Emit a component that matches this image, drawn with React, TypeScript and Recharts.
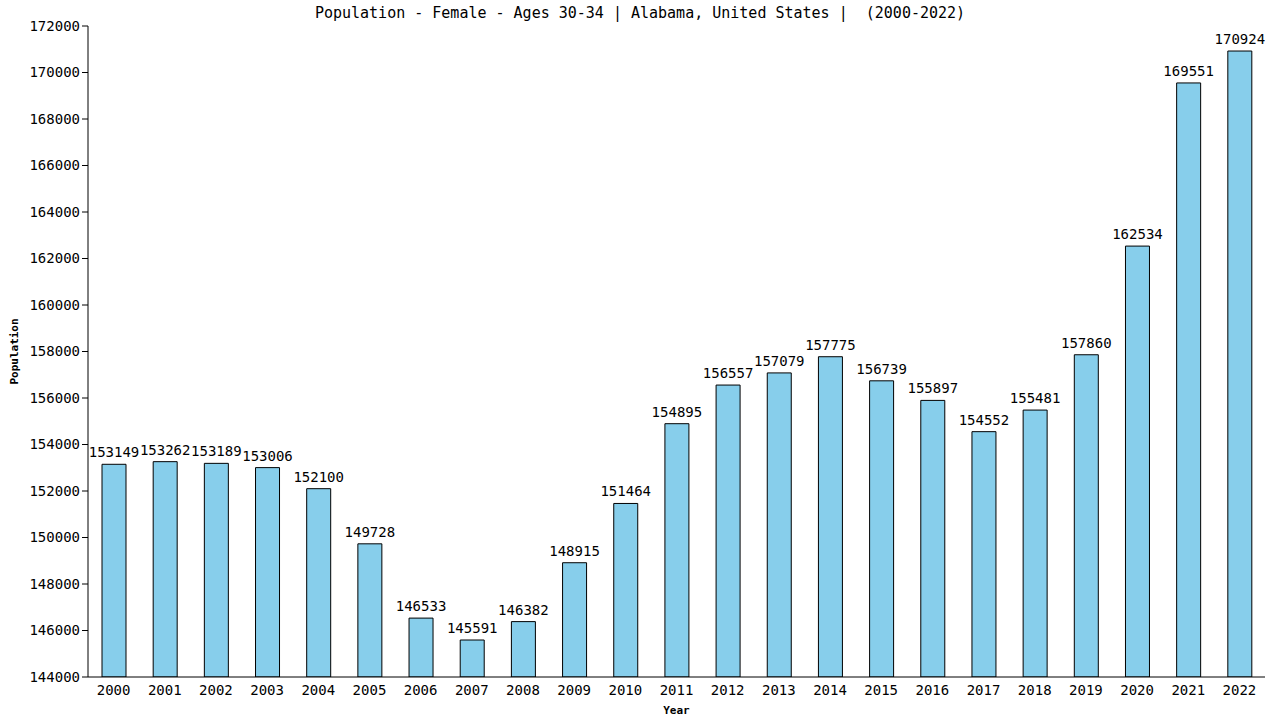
import { BarChart, Bar, XAxis, YAxis, LabelList } from 'recharts';

const years = [
  '2000', '2001', '2002', '2003', '2004', '2005', '2006', '2007', '2008', '2009', '2010', '2011',
  '2012', '2013', '2014', '2015', '2016', '2017', '2018', '2019', '2020', '2021', '2022',
];

const population = [
  153149, 153262, 153189, 153006, 152100, 149728, 146533, 145591, 146382, 148915, 151464, 154895,
  156557, 157079, 157775, 156739, 155897, 154552, 155481, 157860, 162534, 169551, 170924,
];

const yTicks = [
  144000, 146000, 148000, 150000, 152000, 154000, 156000, 158000, 160000, 162000, 164000, 166000,
  168000, 170000, 172000,
];

const data = years.map((year, i) => ({ year, value: population[i] }));

const font = '"DejaVu Sans Mono", monospace';

export default function App() {
  return (
    <div style={{ position: 'absolute', left: 0, top: 0, width: 1280, height: 720, background: '#fff', fontFamily: font }}>
      <div
        style={{
          position: 'absolute',
          top: 4,
          left: 0,
          width: 1280,
          textAlign: 'center',
          fontSize: 15,
          color: '#000',
          whiteSpace: 'pre',
        }}
      >
        {'Population - Female - Ages 30-34 | Alabama, United States |  (2000-2022)'}
      </div>
      <BarChart
        width={1280}
        height={720}
        data={data}
        margin={{ top: 26, right: 15, left: 0, bottom: 0 }}
        barSize={24}
      >
        <XAxis
          dataKey="year"
          height={43}
          tickLine={false}
          axisLine={{ stroke: '#000' }}
          tick={{ fill: '#000', fontSize: 14, fontFamily: font }}
          interval={0}
          label={{ value: 'Year', position: 'insideBottom', offset: 6, fill: '#000', fontSize: 11, fontWeight: 'bold', fontFamily: font }}
        />
        <YAxis
          width={88}
          domain={[144000, 172000]}
          ticks={yTicks}
          interval={0}
          allowDataOverflow
          tickLine={{ stroke: '#000' }}
          tickSize={6}
          axisLine={{ stroke: '#000' }}
          tick={{ fill: '#000', fontSize: 14, fontFamily: font }}
          label={{ value: 'Population', angle: -90, position: 'insideLeft', offset: 14, fill: '#000', fontSize: 11, fontWeight: 'bold', fontFamily: font, style: { textAnchor: 'middle' } }}
        />
        <YAxis
          yAxisId="right"
          orientation="right"
          width={0}
          domain={[144000, 172000]}
          tick={false}
          tickLine={false}
          axisLine={{ stroke: '#000' }}
        />
        <Bar dataKey="value" fill="#87CEEB" stroke="#000" strokeWidth={1} isAnimationActive={false}>
          <LabelList dataKey="value" position="top" offset={7} fill="#000" fontSize={14} fontFamily={font} />
        </Bar>
      </BarChart>
    </div>
  );
}
